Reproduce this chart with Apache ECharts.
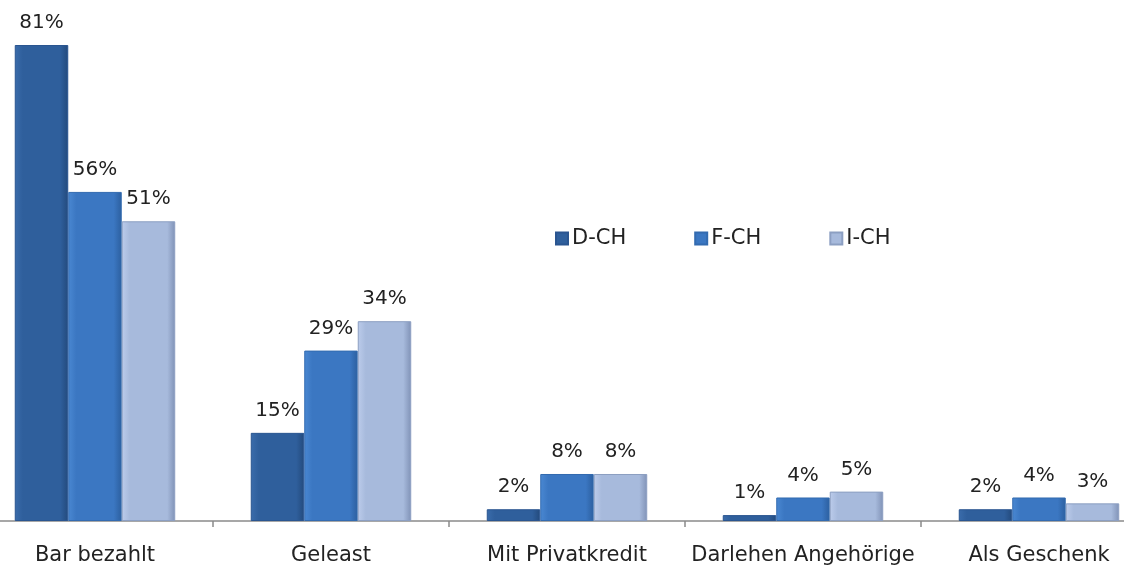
<!DOCTYPE html>
<html>
<head>
  <meta charset="utf-8">
  <script src="https://cdn.jsdelivr.net/npm/echarts@6/dist/echarts.min.js"></script>
  <style>
    html, body { margin: 0; padding: 0; background: #fff; }
  </style>
</head>
<body>
<div id="main" style="width: 1124px; height: 566px"></div>
<script>
  const categories = ['Bar bezahlt', 'Geleast', 'Mit Privatkredit', 'Darlehen Angehörige', 'Als Geschenk'];
  const seriesNames = ['D-CH', 'F-CH', 'I-CH'];
  const dch = [81, 15, 2, 1, 2];
  const fch = [56, 29, 8, 4, 4];
  const ich = [51, 34, 8, 5, 3];

  const fontFamily = '"DejaVu Sans", Verdana, sans-serif';

  // horizontal shading, lighter on the left edge, darker on the right
  function grad(left, mid, right) {
    return new echarts.graphic.LinearGradient(0, 0, 1, 0, [
      { offset: 0, color: left },
      { offset: 0.15, color: mid },
      { offset: 0.85, color: mid },
      { offset: 1, color: right }
    ]);
  }
  const colors = [
    grad('#3a6cab', '#2f5f9c', '#234a7c'),
    grad('#4a88d2', '#3b77c2', '#2c5f9f'),
    grad('#bccceb', '#a7badc', '#8092b6')
  ];
  const legendColors = ['#2f5f9c', '#3b77c2', '#a7badc'];
  const borders = ['#2a5590', '#336bb0', '#8c9fc2'];

  function makeSeries(name, data, i) {
    return {
      name: name,
      type: 'bar',
      data: data,
      barGap: '0%',
      barCategoryGap: '32%',
      itemStyle: { color: colors[i], borderColor: borders[i], borderWidth: 1 },
      label: {
        show: true,
        position: 'top',
        distance: 12,
        formatter: '{c}%',
        color: '#222',
        fontSize: 20,
        fontFamily: fontFamily
      }
    };
  }

  const myChart = echarts.init(document.getElementById('main'));
  myChart.setOption({
    animation: false,
    legend: {
      data: seriesNames.map((n, i) => ({ name: n, itemStyle: { color: legendColors[i] } })),
      left: 550,
      top: 223,
      itemWidth: 12,
      itemHeight: 12,
      itemGap: 68,
      icon: 'rect',
      textStyle: { fontSize: 21, fontFamily: fontFamily, color: '#222', padding: [0, 0, 0, -1] }
    },
    grid: { left: -23, width: 1180, top: 45, bottom: 45, containLabel: false, outerBoundsMode: 'none' },
    xAxis: {
      type: 'category',
      data: categories,
      axisLine: { lineStyle: { color: '#8a8a8a', width: 1.5 } },
      axisTick: { show: true, length: 6, lineStyle: { color: '#8a8a8a', width: 1.5 } },
      axisLabel: { margin: 24, fontSize: 21, fontFamily: fontFamily, color: '#222', interval: 0 }
    },
    yAxis: {
      type: 'value',
      min: 0,
      max: 81,
      show: false,
      splitLine: { show: false }
    },
    series: [
      makeSeries(seriesNames[0], dch, 0),
      makeSeries(seriesNames[1], fch, 1),
      makeSeries(seriesNames[2], ich, 2)
    ]
  });
</script>
</body>
</html>
